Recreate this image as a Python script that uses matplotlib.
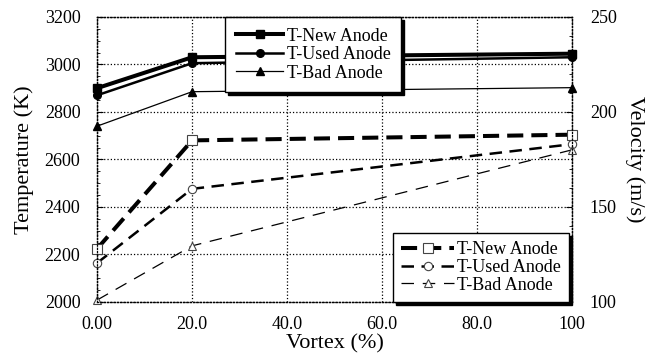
from matplotlib import pyplot as plt
from matplotlib.ticker import MultipleLocator

plt.rcParams['font.family'] = ['Liberation Serif', 'DejaVu Serif']

# dados
vortex = [0, 20, 100]
temp_new = [2900, 3030, 3045]
temp_used = [2870, 3005, 3030]
temp_bad = [2740, 2885, 2902]
vel_new = [128, 185, 188]
vel_used = [120.5, 159.5, 183]
vel_bad = [101, 129.5, 180]

x_ticks = [0, 20, 40, 60, 80, 100]
x_tick_labels = ['0.00', '20.0', '40.0', '60.0', '80.0', '100']


def desenha():
    fig = plt.figure(figsize=(6.52, 3.59), dpi=100)
    ax = fig.add_axes([0.149, 0.159, 0.728, 0.794])
    ax2 = ax.twinx()

    # temperatura (linhas cheias)
    ax.plot(vortex, temp_new, color='black', lw=2.9, marker='s', ms=6,
            label='T-New Anode', clip_on=False, zorder=3)
    ax.plot(vortex, temp_used, color='black', lw=1.8, marker='o', ms=5.5,
            label='T-Used Anode', clip_on=False, zorder=3)
    ax.plot(vortex, temp_bad, color='black', lw=0.9, marker='^', ms=5.5,
            label='T-Bad Anode', clip_on=False, zorder=3)

    # velocidade (linhas tracejadas)
    ax2.plot(vortex, vel_new, color='black', lw=2.9, dashes=(4, 2),
             marker='s', ms=7, mfc='white', mec='#444444', mew=0.8,
             label='T-New Anode', clip_on=False)
    ax2.plot(vortex, vel_used, color='black', lw=1.8, dashes=(5, 3),
             marker='o', ms=6, mfc='white', mec='#444444', mew=0.8,
             label='T-Used Anode', clip_on=False)
    ax2.plot(vortex, vel_bad, color='black', lw=0.9, dashes=(10, 7),
             marker='^', ms=6, mfc='white', mec='#444444', mew=0.8,
             label='T-Bad Anode', clip_on=False)

    ax.set_xlim(0, 100)
    ax.set_ylim(2000, 3200)
    ax2.set_ylim(100, 250)
    ax.set_xticks(x_ticks)
    ax.set_xticklabels(x_tick_labels)
    ax.yaxis.set_major_locator(MultipleLocator(200))
    ax.yaxis.set_minor_locator(MultipleLocator(50))
    ax2.yaxis.set_major_locator(MultipleLocator(50))
    ax2.yaxis.set_minor_locator(MultipleLocator(10))

    ax.grid(True, which='major', color='black', linestyle=':', lw=0.9)
    for a in (ax, ax2):
        for s in a.spines.values():
            s.set_linestyle(':')
            s.set_linewidth(0.9)
    ax.tick_params(axis='both', which='both', direction='in', labelsize=13)
    ax.tick_params(axis='y', which='major', length=4, pad=12)
    ax.tick_params(axis='y', which='minor', length=2.5)
    ax.tick_params(axis='x', length=0, pad=10)
    ax2.tick_params(axis='y', which='both', direction='in', labelsize=13)
    ax2.tick_params(axis='y', which='major', length=4, pad=13)
    ax2.tick_params(axis='y', which='minor', length=2.5)

    ax.set_xlabel('Vortex (%)', fontsize=16, labelpad=1)
    ax.set_ylabel('Temperature (K)', fontsize=16, labelpad=8)
    ax2.set_ylabel('Velocity (m/s)', fontsize=16, rotation=270, labelpad=20)

    sombra = {'color': 'black', 'alpha': 1}
    leg1 = ax.legend(loc='upper left', bbox_to_anchor=(0.27, 1.0),
                     borderaxespad=0, fontsize=13, frameon=True, fancybox=False,
                     edgecolor='black', framealpha=1, shadow=sombra,
                     handlelength=2.6, labelspacing=0.08, handletextpad=0.2,
                     borderpad=0.6)
    leg1.get_frame().set_linewidth(1)

    leg2 = ax2.legend(loc='lower right', bbox_to_anchor=(0.995, 0.0),
                      borderaxespad=0, fontsize=13, frameon=True, fancybox=False,
                      edgecolor='black', framealpha=1, shadow=sombra,
                      handlelength=2.9, labelspacing=0.05, handletextpad=0.2,
                      borderpad=0.45)
    leg2.get_frame().set_linewidth(1)

    plt.savefig('out.png', dpi=100)


def main():
    desenha()


if __name__ == '__main__':
    main()
